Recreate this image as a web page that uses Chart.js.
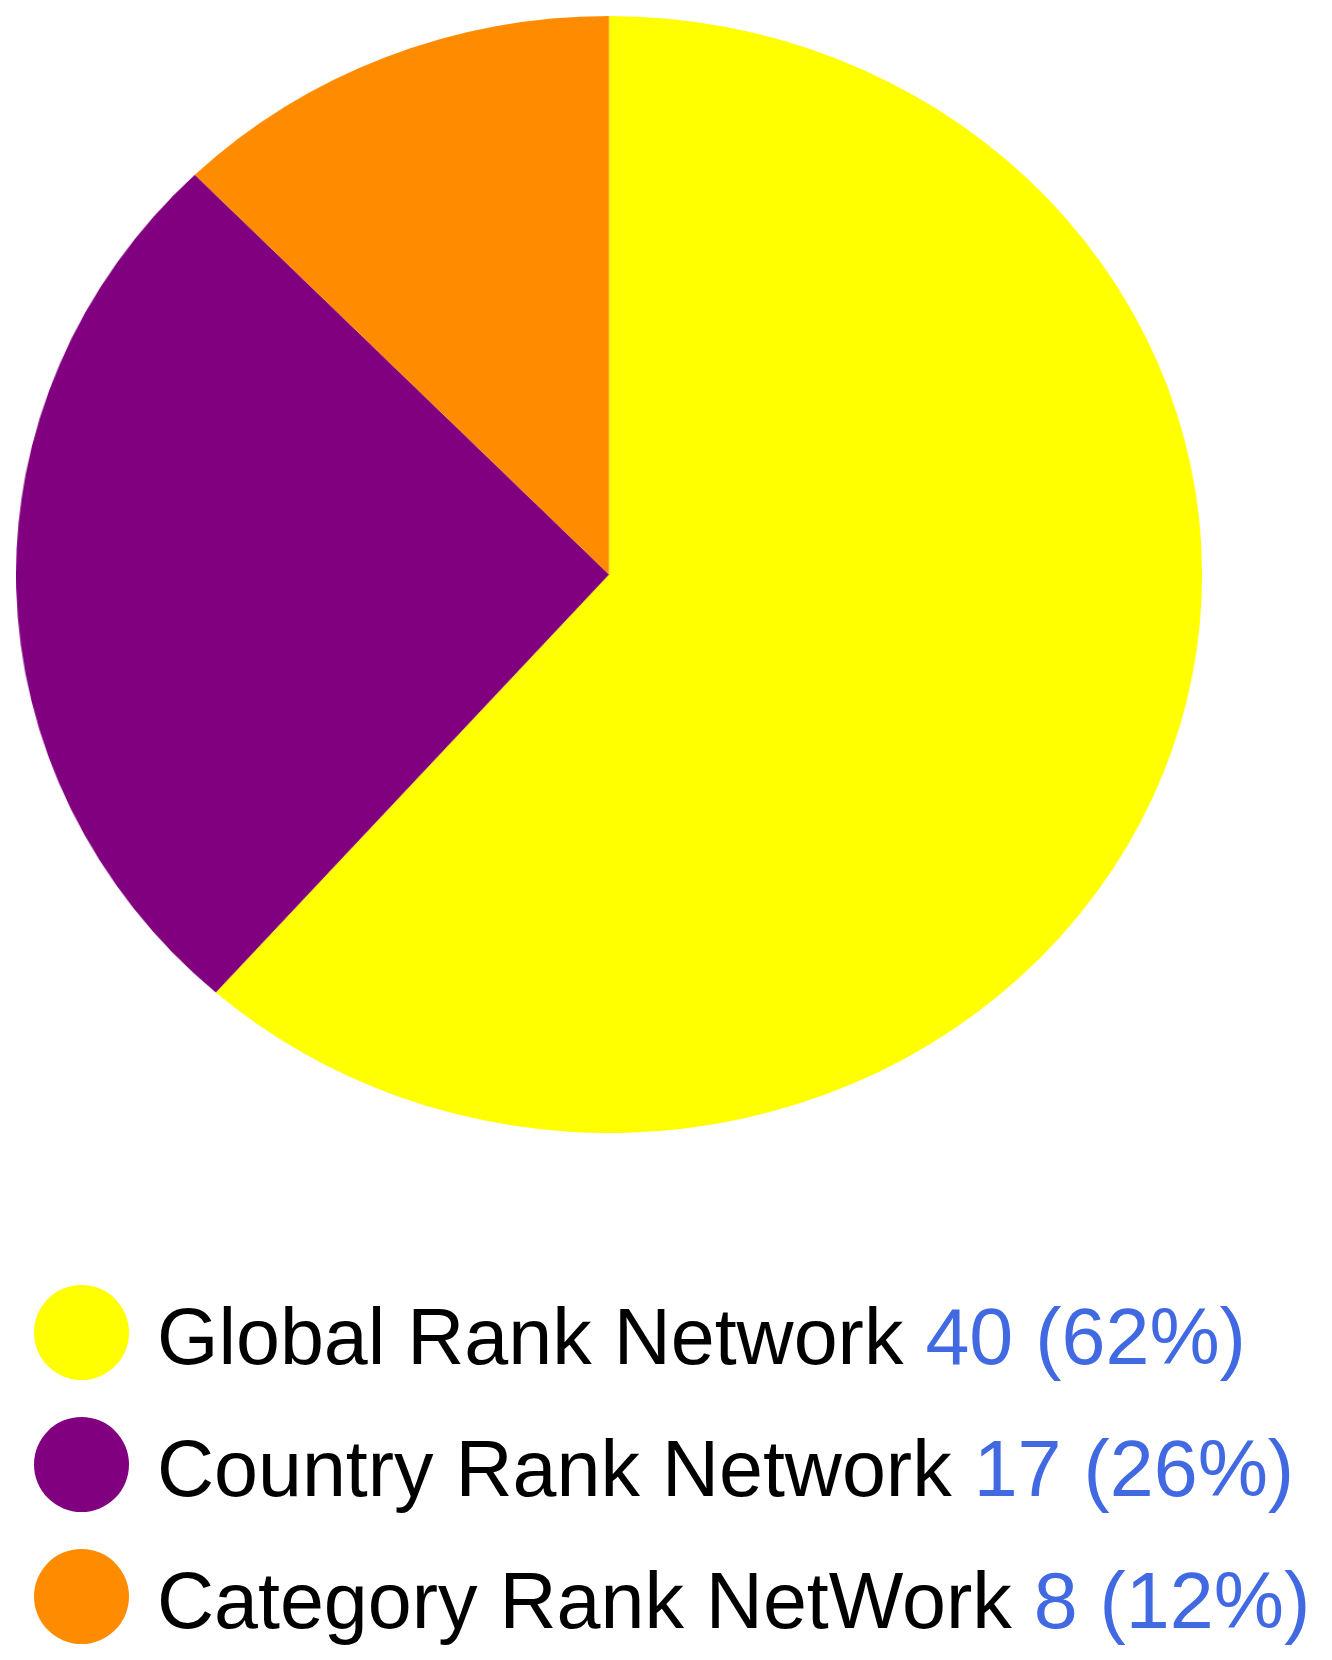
<!DOCTYPE html>
<html>
<head>
<meta charset="utf-8">
<script src="https://cdn.jsdelivr.net/npm/chart.js@4"></script>
<style>
  html, body { margin: 0; padding: 0; background: #fff; }
  body { width: 1332px; height: 1660px; position: relative; overflow: hidden; font-family: "Liberation Sans", Arial, sans-serif; }
  #pie-wrap { position: absolute; left: 16px; top: 16px; width: 1117px; height: 1117px; transform: scaleX(1.0618); transform-origin: 0 0; }
  .legend-dot { position: absolute; left: 34px; width: 95px; height: 95px; border-radius: 50%; }
  .legend-text { position: absolute; left: 157px; font-size: 79px; line-height: 79px; white-space: nowrap; color: #000; }
  .legend-text .val { color: #4169e1; }
</style>
</head>
<body>
<div id="pie-wrap"><canvas id="pie"></canvas></div>
<div id="legend"></div>
<script>
// data
const labels = ['Global Rank Network', 'Country Rank Network', 'Category Rank NetWork'];
const values = [40, 17, 8];
const colors = ['#ffff00', '#800080', '#ff8c00'];

new Chart(document.getElementById('pie'), {
  type: 'pie',
  data: {
    labels: labels,
    datasets: [{
      data: values,
      backgroundColor: colors,
      borderWidth: 0,
      hoverOffset: 0,
    }],
  },
  options: {
    responsive: true,
    maintainAspectRatio: false,
    animation: false,
    layout: { padding: 0 },
    plugins: {
      legend: { display: false },
      tooltip: { enabled: false },
    },
  },
});

// legend below the pie
const total = values.reduce((a, b) => a + b, 0);
const legend = document.getElementById('legend');
const dotCenters = [1332.5, 1464, 1596];
labels.forEach((name, i) => {
  const pct = Math.round(values[i] / total * 100);
  const dot = document.createElement('div');
  dot.className = 'legend-dot';
  dot.style.top = (dotCenters[i] - 47.5) + 'px';
  dot.style.background = colors[i];
  legend.appendChild(dot);

  const txt = document.createElement('div');
  txt.className = 'legend-text';
  txt.style.top = (dotCenters[i] + 31.5 - 67) + 'px';
  txt.innerHTML = name + ' <span class="val">' + values[i] + ' (' + pct + '%)</span>';
  legend.appendChild(txt);
});
</script>
</body>
</html>
